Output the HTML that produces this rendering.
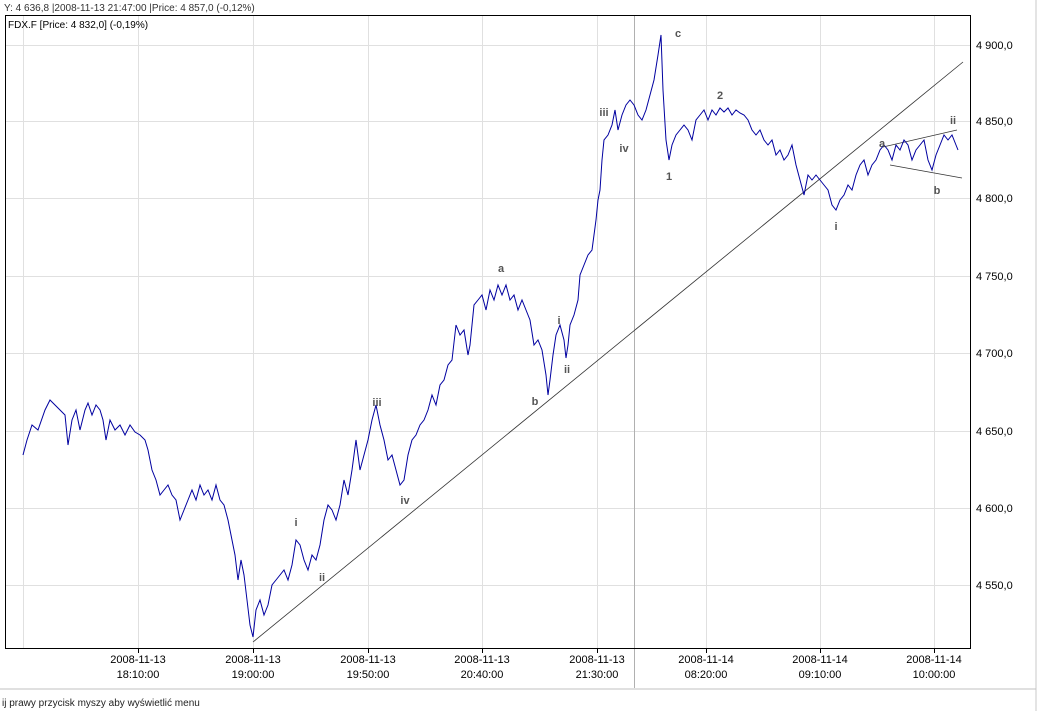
<!DOCTYPE html>
<html><head><style>
body{margin:0;background:#fff;font-family:"Liberation Sans",sans-serif;}
</style></head><body>
<svg width="1040" height="711" xmlns="http://www.w3.org/2000/svg" font-family="Liberation Sans, sans-serif">
<rect width="1040" height="711" fill="#fff"/>
<line x1="1036" y1="0" x2="1036" y2="711" stroke="#c8c8c8"/>
<line x1="0" y1="689" x2="1036" y2="689" stroke="#c0c0c0"/>
<text x="4" y="11" font-size="10" fill="#333">Y: 4 636,8 |2008-11-13 21:47:00 |Price: 4 857,0 (-0,12%)</text>
<text x="2" y="706" font-size="10" fill="#222">ij prawy przycisk myszy aby wyświetlić menu</text>
<g stroke="#e0e0e0" stroke-width="1">
<line x1="23.5" y1="15" x2="23.5" y2="649"/><line x1="138.5" y1="15" x2="138.5" y2="649"/><line x1="253.5" y1="15" x2="253.5" y2="649"/><line x1="368.5" y1="15" x2="368.5" y2="649"/><line x1="482.5" y1="15" x2="482.5" y2="649"/><line x1="597.5" y1="15" x2="597.5" y2="649"/><line x1="706.5" y1="15" x2="706.5" y2="649"/><line x1="820.5" y1="15" x2="820.5" y2="649"/><line x1="934.5" y1="15" x2="934.5" y2="649"/>
<line x1="5" y1="45.5" x2="970" y2="45.5"/><line x1="5" y1="121.5" x2="970" y2="121.5"/><line x1="5" y1="198.5" x2="970" y2="198.5"/><line x1="5" y1="276.5" x2="970" y2="276.5"/><line x1="5" y1="353.5" x2="970" y2="353.5"/><line x1="5" y1="431.5" x2="970" y2="431.5"/><line x1="5" y1="508.5" x2="970" y2="508.5"/><line x1="5" y1="585.5" x2="970" y2="585.5"/>
</g>
<line x1="634.5" y1="15" x2="634.5" y2="688" stroke="#b0b0b0"/>
<rect x="5.5" y="15.5" width="965" height="633" fill="none" stroke="#000"/>
<text x="8" y="28" font-size="10" fill="#000">FDX.F [Price: 4 832,0] (-0,19%)</text>
<g font-size="11" fill="#000">
<text x="976" y="49">4 900,0</text><text x="976" y="125">4 850,0</text><text x="976" y="202">4 800,0</text><text x="976" y="280">4 750,0</text><text x="976" y="357">4 700,0</text><text x="976" y="435">4 650,0</text><text x="976" y="512">4 600,0</text><text x="976" y="589">4 550,0</text>
</g>
<g font-size="11" fill="#000" text-anchor="middle">
<text x="138" y="663">2008-11-13</text><text x="138" y="678">18:10:00</text>
<text x="253" y="663">2008-11-13</text><text x="253" y="678">19:00:00</text>
<text x="368" y="663">2008-11-13</text><text x="368" y="678">19:50:00</text>
<text x="482" y="663">2008-11-13</text><text x="482" y="678">20:40:00</text>
<text x="597" y="663">2008-11-13</text><text x="597" y="678">21:30:00</text>
<text x="706" y="663">2008-11-14</text><text x="706" y="678">08:20:00</text>
<text x="820" y="663">2008-11-14</text><text x="820" y="678">09:10:00</text>
<text x="934" y="663">2008-11-14</text><text x="934" y="678">10:00:00</text>
</g>
<g stroke="#000" stroke-width="1">
<line x1="138.5" y1="649" x2="138.5" y2="653"/><line x1="253.5" y1="649" x2="253.5" y2="653"/><line x1="368.5" y1="649" x2="368.5" y2="653"/><line x1="482.5" y1="649" x2="482.5" y2="653"/><line x1="597.5" y1="649" x2="597.5" y2="653"/><line x1="706.5" y1="649" x2="706.5" y2="653"/><line x1="820.5" y1="649" x2="820.5" y2="653"/><line x1="934.5" y1="649" x2="934.5" y2="653"/>
</g>
<g stroke="#333" stroke-width="0.8">
<line x1="253" y1="642" x2="963" y2="62"/>
<line x1="883" y1="147" x2="957" y2="130"/>
<line x1="890" y1="165" x2="962" y2="178"/>
</g>
<polyline fill="none" stroke="#0000a0" stroke-width="1" points="23,455 27,440 32,425 38,430 45,410 50,400 55,405 60,410 65,415 68,445 72,420 76,410 80,430 85,410 88,403 92,415 96,405 100,410 103,420 106,440 110,420 115,430 120,425 125,435 130,425 135,432 140,435 145,440 148,450 152,470 156,480 160,495 164,490 168,485 172,495 176,500 180,520 184,510 188,500 192,490 196,500 200,485 204,495 208,490 212,500 216,485 220,500 224,505 228,520 232,540 235,555 238,580 241,560 244,575 247,600 250,625 253,637 256,610 260,600 264,615 268,605 272,585 276,580 280,575 284,570 288,580 292,565 296,540 300,545 304,560 308,570 312,555 316,560 320,545 324,520 328,505 332,510 336,520 340,505 344,480 348,495 352,470 356,440 360,470 364,455 368,440 372,420 376,405 380,425 384,440 388,460 392,455 396,470 400,485 404,480 408,455 412,440 416,435 420,425 424,420 428,410 432,395 436,405 440,385 444,380 448,365 452,360 456,325 460,335 464,330 468,355 470,345 474,305 478,300 482,295 486,310 490,290 494,300 498,285 502,295 506,285 510,300 514,295 518,310 522,300 526,310 530,320 534,345 538,340 542,350 546,375 548,395 550,380 553,355 556,335 560,325 564,340 566,358 568,345 570,325 574,315 578,300 580,275 584,265 588,255 592,250 596,220 598,200 600,190 602,160 604,140 608,135 612,125 615,110 618,130 622,115 626,105 630,100 634,105 638,115 642,120 646,110 650,95 654,80 658,55 661,35 663,90 666,140 669,160 672,145 676,135 680,130 684,125 688,130 692,140 696,120 700,115 704,110 708,120 712,110 716,115 720,108 724,112 728,108 732,115 736,110 740,113 744,115 748,120 752,130 756,135 760,130 764,140 768,145 772,140 776,155 780,150 784,160 788,155 792,145 796,165 800,180 804,195 808,175 812,180 816,175 820,180 824,185 828,190 832,205 836,210 840,200 844,195 848,185 852,190 856,175 860,165 864,160 868,175 872,165 876,160 880,150 884,145 888,150 892,160 896,145 900,150 904,140 908,145 912,160 916,150 920,145 924,140 928,160 932,170 936,155 940,145 944,135 948,140 952,135 956,145 958,150"/>
<g font-size="11" font-weight="bold" fill="#555" text-anchor="middle">
<text x="678" y="37">c</text><text x="720" y="99">2</text><text x="604" y="116">iii</text><text x="624" y="152">iv</text><text x="669" y="180">1</text>
<text x="501" y="272">a</text><text x="559" y="324">i</text><text x="567" y="373">ii</text><text x="535" y="405">b</text>
<text x="377" y="406">iii</text><text x="405" y="504">iv</text><text x="296" y="526">i</text><text x="322" y="581">ii</text>
<text x="836" y="230">i</text><text x="882" y="147">a</text><text x="937" y="194">b</text><text x="953" y="124">ii</text>
</g>
</svg>
</body></html>
